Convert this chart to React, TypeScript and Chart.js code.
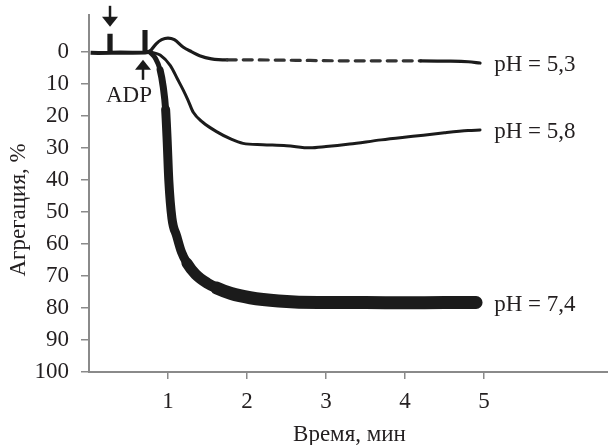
import { useEffect, useRef } from "react";
import { Chart, registerables } from "chart.js";
Chart.register(...registerables);

// ---- data (time in minutes, aggregation in %) ----
const xTickValues = [1, 2, 3, 4, 5];
const yTickValues = [0, 10, 20, 30, 40, 50, 60, 70, 80, 90, 100];
const seriesLabels = ["pH = 5,3", "pH = 5,8", "pH = 7,4"];
const xTitle = "Время, мин";
const yTitle = "Агрегация, %";
const adpLabel = "ADP";

// baseline before ADP, with the two injection marks
const baseTimes = [0.02, 0.12, 0.258, 0.258, 0.274, 0.274, 0.4, 0.55, 0.702, 0.702, 0.716, 0.716, 0.77];
const baseValues = [0.3, 0.4, 0.3, -5, -5, 0.3, 0.2, 0.3, 0.2, -6.2, -6.2, 0.2, 0];
const spike1Time = 0.266;
const spike2Time = 0.709;

const times53 = [0.77, 0.85, 0.92, 1.0, 1.08, 1.19, 1.3, 1.4, 1.55, 1.75, 2.0, 2.4, 2.8, 3.2, 3.6, 4.0, 4.2, 4.5, 4.8, 4.95];
const values53 = [0, -2.5, -3.8, -4.3, -3.8, -1.5, 0, 1.2, 2.2, 2.5, 2.5, 2.6, 2.7, 2.8, 2.8, 2.8, 2.8, 2.9, 3.1, 3.5];

const times58 = [0.77, 0.9, 1.03, 1.12, 1.19, 1.25, 1.32, 1.44, 1.62, 1.8, 1.95, 2.2, 2.5, 2.8, 3.0, 3.3, 3.7, 4.1, 4.5, 4.8, 4.95];
const values58 = [0, 1, 4.3, 8.5, 11.8, 14.9, 18.9, 22, 25, 27.3, 28.6, 29, 29.3, 30, 29.6, 28.8, 27.5, 26.4, 25.3, 24.6, 24.4];

const times74 = [0.77, 0.84, 0.9, 0.94, 0.97, 0.99, 1.01, 1.05, 1.11, 1.17, 1.24, 1.35, 1.5, 1.62, 1.8, 2.04, 2.4, 2.9, 3.5, 4.0, 4.5, 4.9];
const values74 = [0, 2, 5.6, 11, 18, 28, 40, 52, 57.5, 62.5, 66, 69.5, 72.3, 73.8, 75.5, 76.8, 77.8, 78.3, 78.3, 78.4, 78.3, 78.3];

const toPoints = (ts: number[], vs: number[]) => ts.map((t, i) => ({ x: t, y: vs[i] }));

const INK = "#1b1b1b";
const AXIS = "#8a8a8a";
const TEXT = "#231f20";
const FONT = "'Liberation Serif', 'DejaVu Serif', serif";
const FSIZE = 23;

const annotations = {
  id: "annotations",
  afterDatasetsDraw(chart: any) {
    const { ctx, scales } = chart;
    const x = scales.x;
    const y = scales.y;
    ctx.save();
    ctx.fillStyle = INK;
    ctx.strokeStyle = INK;

    // down arrow above the first mark
    const a1x = x.getPixelForValue(spike1Time);
    const a1tip = y.getPixelForValue(-5) - 9;
    ctx.lineWidth = 2.5;
    ctx.beginPath();
    ctx.moveTo(a1x, a1tip - 21);
    ctx.lineTo(a1x, a1tip - 6);
    ctx.stroke();
    ctx.beginPath();
    ctx.moveTo(a1x - 8, a1tip - 10);
    ctx.lineTo(a1x + 8, a1tip - 10);
    ctx.lineTo(a1x, a1tip);
    ctx.closePath();
    ctx.fill();

    // up arrow (ADP)
    const a2x = x.getPixelForValue(spike2Time) - 2;
    const a2tip = y.getPixelForValue(0) + 8;
    ctx.beginPath();
    ctx.moveTo(a2x, a2tip + 6);
    ctx.lineTo(a2x, a2tip + 20);
    ctx.stroke();
    ctx.beginPath();
    ctx.moveTo(a2x - 8, a2tip + 10);
    ctx.lineTo(a2x + 8, a2tip + 10);
    ctx.lineTo(a2x, a2tip);
    ctx.closePath();
    ctx.fill();

    ctx.font = `${FSIZE}px ${FONT}`;
    ctx.fillStyle = TEXT;
    ctx.textAlign = "center";
    ctx.textBaseline = "alphabetic";
    ctx.fillText(adpLabel, a2x - 14, a2tip + 42);

    // series labels
    ctx.textAlign = "left";
    const lastVals = [values53[values53.length - 1], values58[values58.length - 1], values74[values74.length - 1]];
    const lx = x.getPixelForValue(5.13);
    seriesLabels.forEach((lab, i) => {
      ctx.fillText(lab, lx, y.getPixelForValue(lastVals[i]) + 8);
    });

    // axis titles
    ctx.textAlign = "center";
    ctx.fillText(xTitle, (x.left + x.right) / 2 + 1, 441);
    ctx.save();
    ctx.translate(25, 210);
    ctx.rotate(-Math.PI / 2);
    ctx.fillText(yTitle, 0, 0);
    ctx.restore();
    ctx.restore();
  },
};

export default function App() {
  const ref = useRef<HTMLCanvasElement | null>(null);
  useEffect(() => {
    if (!ref.current) return;
    const chart = new Chart(ref.current, {
      type: "line",
      data: {
        datasets: [
          {
            data: toPoints(baseTimes, baseValues),
            borderColor: INK,
            borderWidth: 4,
            tension: 0,
            pointRadius: 0,
            borderJoinStyle: "miter",
          },
          {
            label: seriesLabels[0],
            data: toPoints(times53, values53),
            borderColor: INK,
            borderWidth: 3.2,
            cubicInterpolationMode: "monotone",
            pointRadius: 0,
            borderCapStyle: "round",
            segment: {
              borderDash: (c: any) => (c.p0.parsed.x >= 1.75 && c.p1.parsed.x <= 4.2 ? [9, 7] : undefined),
              borderColor: (c: any) => (c.p0.parsed.x >= 1.75 && c.p1.parsed.x <= 4.2 ? "#333" : undefined),
            },
          },
          {
            label: seriesLabels[1],
            data: toPoints(times58, values58),
            borderColor: INK,
            borderWidth: 3,
            cubicInterpolationMode: "monotone",
            pointRadius: 0,
            borderCapStyle: "round",
          },
          {
            label: seriesLabels[2],
            data: toPoints(times74, values74),
            borderColor: INK,
            borderWidth: 10,
            cubicInterpolationMode: "monotone",
            pointRadius: 0,
            borderCapStyle: "round",
            borderJoinStyle: "round",
            segment: {
              borderWidth: (c: any) => {
                const t = c.p0.parsed.x;
                return t < 0.88 ? 5 : t < 0.97 ? 7 : t < 1.2 ? 9 : t < 1.6 ? 11 : 13;
              },
            },
          },
        ],
      },
      options: {
        animation: false,
        responsive: false,
        events: [],
        layout: { padding: { top: 15, right: 0, left: 0, bottom: 0 } },
        plugins: { legend: { display: false }, tooltip: { enabled: false } },
        scales: {
          x: {
            type: "linear",
            min: 0,
            max: 6.57,
            afterBuildTicks: (s: any) => {
              s.ticks = xTickValues.map((v) => ({ value: v }));
            },
            afterFit: (s: any) => {
              s.height = 73;
              s.paddingLeft = 0;
              s.paddingRight = 0;
            },
            grid: { display: true, drawOnChartArea: false, drawTicks: true, tickLength: 7, color: AXIS, lineWidth: 1.5 },
            border: { display: true, color: AXIS, width: 2 },
            ticks: { color: TEXT, font: { family: FONT, size: FSIZE }, padding: 9, maxRotation: 0 },
          },
          y: {
            type: "linear",
            reverse: true,
            min: -11.5,
            max: 100,
            afterBuildTicks: (s: any) => {
              s.ticks = yTickValues.map((v) => ({ value: v }));
            },
            afterFit: (s: any) => {
              s.width = 89;
              s.paddingTop = 0;
              s.paddingBottom = 0;
            },
            grid: { display: true, drawOnChartArea: false, drawTicks: true, tickLength: 8, color: AXIS, lineWidth: 1.5 },
            border: { display: true, color: AXIS, width: 2 },
            ticks: { color: TEXT, font: { family: FONT, size: FSIZE }, padding: 12 },
          },
        },
      },
      plugins: [annotations],
    } as any);
    return () => chart.destroy();
  }, []);
  return (
    <div style={{ position: "fixed", left: 0, top: 0, width: 608, height: 445, background: "#fff" }}>
      <canvas ref={ref} width={608} height={445} style={{ display: "block" }} />
    </div>
  );
}
